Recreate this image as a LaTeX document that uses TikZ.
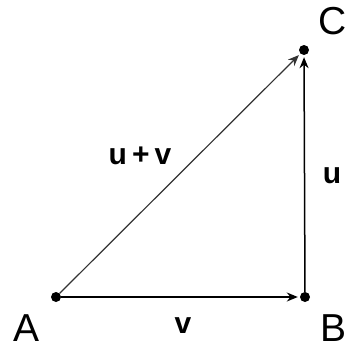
\documentclass[tikz,border=0pt]{standalone}
\usepackage{fontspec}
\setmainfont{Liberation Sans}
\usetikzlibrary{arrows.meta}
\begin{document}
\begin{tikzpicture}[x=1pt,y=-1pt,
  pt/.style={circle,fill=black,inner sep=0pt,minimum size=10pt},
  vec/.style={line width=1.5pt,-{Stealth[length=11pt,width=9pt]},shorten >=2pt},
  big/.style={font=\fontsize{39}{39}\selectfont,inner sep=0pt},
  lab/.style={font=\fontsize{30}{30}\selectfont\bfseries,inner sep=0pt}]
\useasboundingbox (0,0) rectangle (348,354);
\node[pt] (A) at (56,297) {};
\node[pt] (B) at (305,297) {};
\node[pt] (C) at (304,50) {};
\draw[vec] (A) -- (B);
\draw[vec] (B) -- (C);
\draw[vec,line width=1.2pt,draw=black!80] (A) -- (C);
\node[big] (lA) at (27,328) {A};
\node[big] (lB) at (334,328) {B};
\node[big] (lC) at (333,21) {C};
\node[lab] (lv) at (183,326) {v};
\node[lab] (lu) at (332,176) {u};
\node[lab] (luv) at (140,156) {u\,+\,v};
\end{tikzpicture}
\end{document}
